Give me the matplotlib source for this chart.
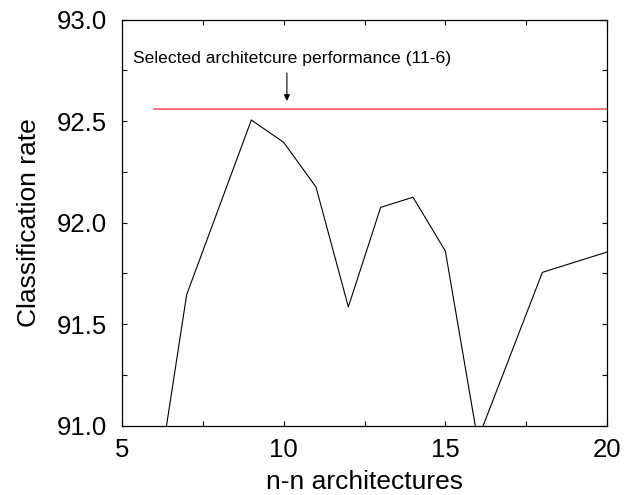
import matplotlib

matplotlib.use("Agg")
import matplotlib.pyplot as plt
from matplotlib.ticker import MultipleLocator

plt.rcParams["font.family"] = ["Liberation Sans", "DejaVu Sans"]

# n-n architectures vs classification rate
arch = [6, 7, 9, 10, 11, 12, 13, 14, 15, 16, 18, 20]
rate = [90.61, 91.645, 92.505, 92.395, 92.175, 91.585, 92.075, 92.125, 91.86, 90.93, 91.755, 91.855]

selected_rate = 92.56
selected_span = [6, 20]
note = "Selected architetcure performance (11-6)"

fig = plt.figure(figsize=(6.24, 4.95), dpi=100)
ax = fig.add_axes([0.1955, 0.140, 0.7773, 0.8206])

ax.plot(arch, rate, color="black", lw=0.8)
ax.plot(selected_span, [selected_rate, selected_rate], color="#f04a4a", lw=1.1)

ax.annotate(
    "", xy=(10.1, selected_rate + 0.025), xytext=(10.1, 92.75),
    arrowprops=dict(arrowstyle="-|>", color="black", lw=0.8, mutation_scale=9),
)
ax.text(5.35, 92.81, note, fontsize=12.6, va="center", ha="left")

ax.set_xlim(5, 20)
ax.set_ylim(91.0, 93.0)
ax.xaxis.set_major_locator(MultipleLocator(5))
ax.xaxis.set_minor_locator(MultipleLocator(2.5))
ax.yaxis.set_major_locator(MultipleLocator(0.5))
ax.yaxis.set_minor_locator(MultipleLocator(0.25))
ax.yaxis.set_major_formatter(plt.FormatStrFormatter("%.1f"))
ax.tick_params(which="both", direction="in", top=True, right=True,
               length=3.5, width=0.8, labelsize=18.5)
ax.tick_params(axis="y", pad=11)
ax.tick_params(axis="x", pad=9)

for s in ax.spines.values():
    s.set_linewidth(0.9)

ax.set_xlabel("n-n architectures", fontsize=19)
ax.set_ylabel("Classification rate", fontsize=19)
ax.xaxis.set_label_coords(0.5, -0.108)
ax.yaxis.set_label_coords(-0.168, 0.5)

fig.savefig("out.png", dpi=100)
